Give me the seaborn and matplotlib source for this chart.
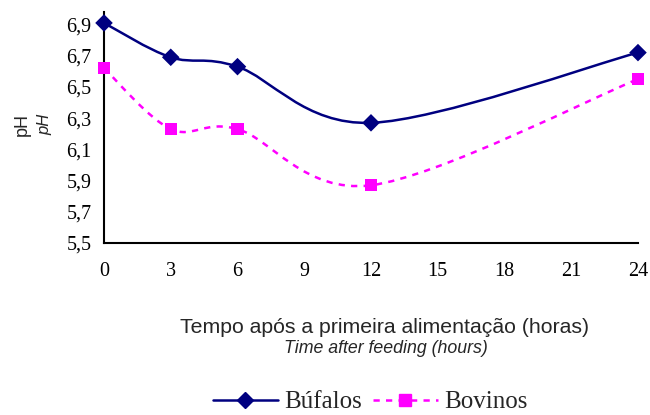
import matplotlib
matplotlib.use('Agg')
import matplotlib.pyplot as plt
import seaborn as sns
import pandas as pd
from matplotlib.path import Path
from matplotlib.patches import PathPatch
from matplotlib.lines import Line2D

horas = [0, 3, 6, 12, 24]
bufalos = [6.91, 6.69, 6.63, 6.27, 6.72]
bovinos = [6.62, 6.23, 6.23, 5.87, 6.55]

sns.set_style('white')
plt.rcParams['font.family'] = ['Liberation Serif', 'DejaVu Serif']

df = pd.DataFrame({'horas': horas + horas,
                   'pH': bufalos + bovinos,
                   'grupo': ['Búfalos'] * 5 + ['Bovinos'] * 5})

fig = plt.figure(figsize=(6.5, 4.15), dpi=100)
ax = fig.add_axes([0.16, 0.4145, 0.8215, 0.5565])


def curva_suave(x, y):
    # curva tipo Excel (Bezier cúbica, estilo Catmull-Rom)
    pts = list(zip(x, y))
    verts = [pts[0]]
    codes = [Path.MOVETO]
    n = len(pts)
    for i in range(n - 1):
        p0 = pts[i - 1] if i > 0 else pts[i]
        p1 = pts[i]
        p2 = pts[i + 1]
        p3 = pts[i + 2] if i + 2 < n else pts[i + 1]
        c1 = (p1[0] + (p2[0] - p0[0]) / 6, p1[1] + (p2[1] - p0[1]) / 6)
        c2 = (p2[0] - (p3[0] - p1[0]) / 6, p2[1] - (p3[1] - p1[1]) / 6)
        verts += [c1, c2, p2]
        codes += [Path.CURVE4] * 3
    return Path(verts, codes)


ax.add_patch(PathPatch(curva_suave(horas, bufalos), fill=False,
                       edgecolor='#000080', lw=1.8, zorder=2))
ax.add_patch(PathPatch(curva_suave(horas, bovinos), fill=False,
                       edgecolor='#FF00FF', lw=1.8, linestyle=(0, (2.5, 2.5)), zorder=2))

sns.scatterplot(data=df, x='horas', y='pH', hue='grupo', style='grupo',
                palette={'Búfalos': '#000080', 'Bovinos': '#FF00FF'},
                markers={'Búfalos': 'D', 'Bovinos': 's'},
                s=80, edgecolor='none', legend=False, ax=ax, zorder=3,
                clip_on=False)

ax.set_xlim(0, 24)
ax.set_ylim(5.5, 6.98)
ax.set_xticks(range(0, 25, 3))
ax.set_yticks([5.5, 5.7, 5.9, 6.1, 6.3, 6.5, 6.7, 6.9])
ax.set_yticklabels(['5,5', '5,7', '5,9', '6,1', '6,3', '6,5', '6,7', '6,9'])
ax.tick_params(axis='both', labelsize=14.5, direction='out', length=5, width=1.5,
               colors='black', pad=9)
ax.tick_params(axis='y', pad=4)
for s in ['top', 'right']:
    ax.spines[s].set_visible(False)
for s in ['left', 'bottom']:
    ax.spines[s].set_linewidth(1.5)
    ax.spines[s].set_color('black')
ax.set_xlabel('')
ax.set_ylabel('')

fig.text(22 / 650, 1 - 124 / 415, 'pH', rotation=90, ha='center', va='center',
         fontsize=13, family='Liberation Sans')
fig.text(45 / 650, 1 - 124 / 415, 'pH', rotation=90, ha='center', va='center',
         fontsize=12, style='italic', family='Liberation Sans')
fig.text(385 / 650, 1 - 327 / 415, 'Tempo após a primeira alimentação (horas)',
         ha='center', va='center', fontsize=15.3, family='Liberation Sans')
fig.text(386 / 650, 1 - 348 / 415, 'Time after feeding (hours)',
         ha='center', va='center', fontsize=12.8, style='italic', family='Liberation Sans')

handles = [Line2D([], [], color='#000080', lw=1.8, marker='D', markersize=8),
           Line2D([], [], color='#FF00FF', lw=1.8, linestyle=(0, (2.5, 2.5)),
                  marker='s', markersize=9)]
fig.legend(handles, ['Búfalos', 'Bovinos'], loc='center', ncol=2,
           bbox_to_anchor=(370 / 650, 1 - 402 / 415), frameon=False,
           fontsize=18, handlelength=2.6, columnspacing=0.45, handletextpad=0.25,
           borderpad=0, borderaxespad=0)

fig.savefig('out.png', dpi=100)
